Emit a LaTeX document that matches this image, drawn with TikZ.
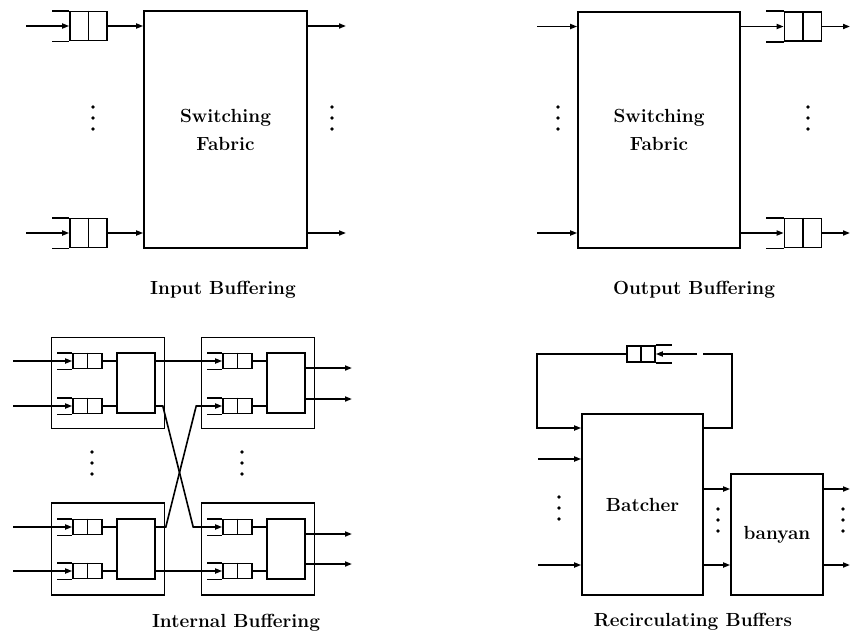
\documentclass[tikz,border=0pt]{standalone}
\usetikzlibrary{arrows.meta}
\newcommand\qdeco[2]{\draw (#1.north) -- (#1.south); \draw (#1.north west) -- ++(-#2,0) (#1.south west) -- ++(-#2,0);}
\newcommand\qdecoR[2]{\draw (#1.north) -- (#1.south); \draw (#1.north east) -- ++(#2,0) (#1.south east) -- ++(#2,0);}
\newcommand\dotcol[2]{\foreach \k in {0,1,2} {\fill (#1,#2+11*\k) circle (1.8pt);}}
\begin{document}
\begin{tikzpicture}[x=1pt,y=-1pt,line width=1.6pt,
  arr/.style={-{Triangle[length=7pt,width=5pt]}},
  bigbox/.style={draw,rectangle,inner sep=0pt,align=center,font=\fontsize{19}{28}\selectfont\bfseries},
  caption/.style={inner sep=0pt,font=\fontsize{19}{23}\selectfont\bfseries},
  qbig/.style={draw,rectangle,inner sep=0pt,minimum width=37pt,minimum height=29pt},
  qsmall/.style={draw,rectangle,inner sep=0pt,minimum width=29pt,minimum height=15pt},
  modbox/.style={draw,rectangle,inner sep=0pt,minimum width=113pt,minimum height=91pt},
  swbox/.style={draw,rectangle,inner sep=0pt,minimum width=38pt,minimum height=60pt}]
\useasboundingbox (0,0) rectangle (852,635);

% ---------------- Input Buffering ----------------
\node[bigbox,minimum width=163pt,minimum height=237pt] (sf1) at (225.5,129.5) {Switching\\Fabric};
\node[qbig] (iq1) at (88.5,26) {};
\node[qbig] (iq2) at (88.5,233) {};
\qdeco{iq1}{17}
\qdeco{iq2}{17}
\coordinate (ii1) at (26,26);
\coordinate (ii2) at (26,233);
\coordinate (io1) at (346,26);
\coordinate (io2) at (346,233);
\draw[arr] (ii1) -- (iq1.west);
\draw[arr] (ii2) -- (iq2.west);
\draw[arr] (iq1.east) -- (sf1.west |- iq1.east);
\draw[arr] (iq2.east) -- (sf1.west |- iq2.east);
\draw[arr] (sf1.east |- io1) -- (io1);
\draw[arr] (sf1.east |- io2) -- (io2);
\dotcol{93}{107}
\dotcol{332}{107}
\node[caption] (t1) at (223,290) {Input Buffering};

% ---------------- Output Buffering ----------------
\node[bigbox,minimum width=162pt,minimum height=236pt] (sf2) at (659,130) {Switching\\Fabric};
\node[qbig] (oq1) at (803,26.5) {};
\node[qbig] (oq2) at (803,233) {};
\qdeco{oq1}{18}
\qdeco{oq2}{18}
\coordinate (oi1) at (537,26.5);
\coordinate (oi2) at (537,233);
\coordinate (oo1) at (850,26.5);
\coordinate (oo2) at (850,233);
\draw[arr] (oi1) -- (sf2.west |- oi1);
\draw[arr] (oi2) -- (sf2.west |- oi2);
\draw[arr] (sf2.east |- oq1) -- (oq1.west);
\draw[arr] (sf2.east |- oq2) -- (oq2.west);
\draw[arr] (oq1.east) -- (oo1);
\draw[arr] (oq2.east) -- (oo2);
\dotcol{558}{107}
\dotcol{808}{107}
\node[caption] (t2) at (694,290) {Output Buffering};

% ---------------- Internal Buffering ----------------
\node[modbox] (mTL) at (108,383) {};
\node[modbox] (mTR) at (258,383) {};
\node[modbox,minimum height=92pt] (mBL) at (108,549) {};
\node[modbox,minimum height=92pt] (mBR) at (258,549) {};
\node[swbox] (swTL) at (136,383) {};
\node[swbox] (swTR) at (286,383) {};
\node[swbox] (swBL) at (136,549) {};
\node[swbox] (swBR) at (286,549) {};
\node[qsmall] (qTL1) at (87.5,361) {};
\node[qsmall] (qTL2) at (87.5,406) {};
\node[qsmall] (qTR1) at (237.5,361) {};
\node[qsmall] (qTR2) at (237.5,406) {};
\node[qsmall] (qBL1) at (87.5,527) {};
\node[qsmall] (qBL2) at (87.5,571) {};
\node[qsmall] (qBR1) at (237.5,527) {};
\node[qsmall] (qBR2) at (237.5,571) {};
\foreach \q in {qTL1,qTL2,qTR1,qTR2,qBL1,qBL2,qBR1,qBR2} {\qdeco{\q}{15}}
\draw (qTL1.east) -- (swTL.west |- qTL1.east);
\draw (qTL2.east) -- (swTL.west |- qTL2.east);
\draw (qTR1.east) -- (swTR.west |- qTR1.east);
\draw (qTR2.east) -- (swTR.west |- qTR2.east);
\draw (qBL1.east) -- (swBL.west |- qBL1.east);
\draw (qBL2.east) -- (swBL.west |- qBL2.east);
\draw (qBR1.east) -- (swBR.west |- qBR1.east);
\draw (qBR2.east) -- (swBR.west |- qBR2.east);
\coordinate (inTL1) at (13,361);
\coordinate (inTL2) at (13,406);
\coordinate (inBL1) at (13,527);
\coordinate (inBL2) at (13,571);
\draw[arr] (inTL1) -- (qTL1.west);
\draw[arr] (inTL2) -- (qTL2.west);
\draw[arr] (inBL1) -- (qBL1.west);
\draw[arr] (inBL2) -- (qBL2.west);
\draw[arr] (swTL.east |- qTL1) -- (qTR1.west);
\draw[arr] (swBL.east |- qBL2) -- (qBR2.west);
\draw[arr] (swTL.east |- qTL2) -- ++(7,0) -- ([xshift=-29pt]qBR1.west) -- (qBR1.west);
\draw[arr] (swBL.east |- qBL1) -- ++(10,0) -- ([xshift=-26pt]qTR2.west) -- (qTR2.west);
\coordinate (oTR1) at (352,368);
\coordinate (oTR2) at (352,399);
\coordinate (oBR1) at (352,534);
\coordinate (oBR2) at (352,564);
\draw[arr] (swTR.east |- oTR1) -- (oTR1);
\draw[arr] (swTR.east |- oTR2) -- (oTR2);
\draw[arr] (swBR.east |- oBR1) -- (oBR1);
\draw[arr] (swBR.east |- oBR2) -- (oBR2);
\dotcol{92}{452}
\dotcol{242}{452}
\node[caption] (t3) at (236,623) {Internal Buffering};

% ---------------- Recirculating Buffers ----------------
\node[bigbox,minimum width=121pt,minimum height=181pt] (bat) at (642.5,504.5) {Batcher};
\node[bigbox,minimum width=92pt,minimum height=121pt] (ban) at (777,534.5) {banyan};
\node[qsmall,minimum width=28pt,minimum height=16pt] (rq) at (641,354) {};
\qdecoR{rq}{16}
\coordinate (lpA) at (732,354);
\coordinate (lpB) at (537,428);
\coordinate (gapR) at (703,354);
\coordinate (gapL) at (697,354);
\draw (bat.east |- lpB) -| (lpA) -- (gapR);
\draw[arr] (gapL) -- (rq.east);
\draw[arr] (rq.west) -| (lpB) -- (bat.west |- lpB);
\coordinate (bi1) at (538,459);
\coordinate (bi2) at (538,565);
\draw[arr] (bi1) -- (bat.west |- bi1);
\draw[arr] (bi2) -- (bat.west |- bi2);
\coordinate (bn1) at (850,489);
\coordinate (bn2) at (850,565);
\draw[arr] (bat.east |- bn1) -- (ban.west |- bn1);
\draw[arr] (bat.east |- bn2) -- (ban.west |- bn2);
\draw[arr] (ban.east |- bn1) -- (bn1);
\draw[arr] (ban.east |- bn2) -- (bn2);
\dotcol{559}{497}
\dotcol{718}{509}
\dotcol{843}{509}
\node[caption] (t4) at (693,622) {Recirculating Buffers};
\end{tikzpicture}
\end{document}
